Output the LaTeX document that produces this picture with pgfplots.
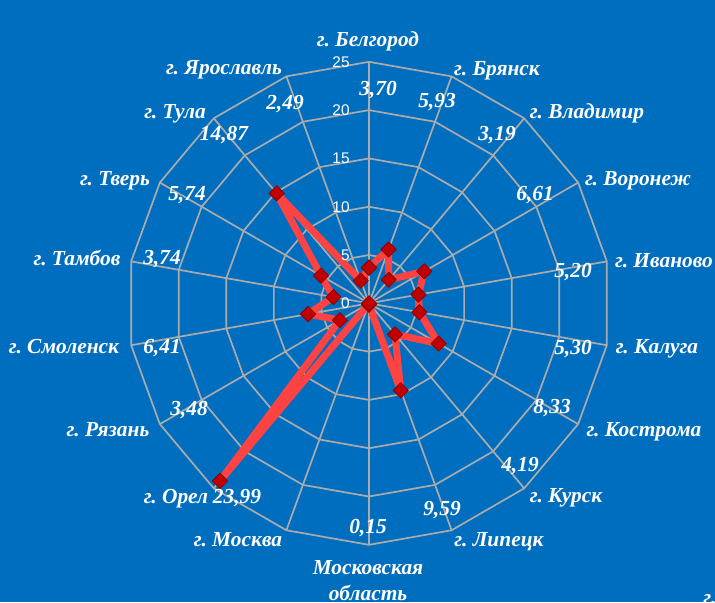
\documentclass[border=0pt]{standalone}
\usepackage{pgfplots}
\pgfplotsset{compat=1.18}
\usepackage{fontspec}
\setmainfont{Liberation Serif}
\newfontfamily\arialf{Liberation Sans}
\definecolor{bgblue}{HTML}{006EBE}
\definecolor{gridgray}{HTML}{ABABAB}
\definecolor{linered}{HTML}{FF4343}
\definecolor{markred}{HTML}{C00000}
\frenchspacing
\tikzset{lbl/.style={text=white, inner sep=0pt, anchor=base, font=\fontsize{10.7}{12}\selectfont\bfseries\itshape},
  tlbl/.style={text=white, inner sep=0pt, anchor=east, font=\fontsize{7.7}{9}\selectfont\arialf}}
\newcommand\lab[3]{\node[lbl] at (#1,#2+7) {#3};}
\begin{document}
\begin{tikzpicture}
\path[use as bounding box] (0,0) rectangle (357.5pt,301pt);
\clip (0,0) rectangle (357.5pt,301pt);
\fill[bgblue] (0,0) rectangle (357.5pt,301pt);
\begin{axis}[
  at={(0,0)}, anchor=south west,
  scale only axis, width=357.5pt, height=301pt,
  xmin=-38.2, xmax=35.82, ymin=-30.92, ymax=31.40,
  hide axis, clip=false,
  data cs=polar,
]
% spokes
\addplot[gridgray, line width=0.85pt, mark=none] coordinates {
(90,0)(90,25)(70,0)(70,25)(50,0)(50,25)(30,0)(30,25)(10,0)(10,25)
(-10,0)(-10,25)(-30,0)(-30,25)(-50,0)(-50,25)(-70,0)(-70,25)(-90,0)(-90,25)
(-110,0)(-110,25)(-130,0)(-130,25)(-150,0)(-150,25)(-170,0)(-170,25)
(170,0)(170,25)(150,0)(150,25)(130,0)(130,25)(110,0)(110,25)};
% rings
\addplot[gridgray, line width=0.85pt, mark=none] coordinates {
(90,5)(70,5)(50,5)(30,5)(10,5)(-10,5)(-30,5)(-50,5)(-70,5)(-90,5)
(-110,5)(-130,5)(-150,5)(-170,5)(170,5)(150,5)(130,5)(110,5)(90,5)};
\addplot[gridgray, line width=0.85pt, mark=none] coordinates {
(90,10)(70,10)(50,10)(30,10)(10,10)(-10,10)(-30,10)(-50,10)(-70,10)(-90,10)
(-110,10)(-130,10)(-150,10)(-170,10)(170,10)(150,10)(130,10)(110,10)(90,10)};
\addplot[gridgray, line width=0.85pt, mark=none] coordinates {
(90,15)(70,15)(50,15)(30,15)(10,15)(-10,15)(-30,15)(-50,15)(-70,15)(-90,15)
(-110,15)(-130,15)(-150,15)(-170,15)(170,15)(150,15)(130,15)(110,15)(90,15)};
\addplot[gridgray, line width=0.85pt, mark=none] coordinates {
(90,20)(70,20)(50,20)(30,20)(10,20)(-10,20)(-30,20)(-50,20)(-70,20)(-90,20)
(-110,20)(-130,20)(-150,20)(-170,20)(170,20)(150,20)(130,20)(110,20)(90,20)};
\addplot[gridgray, line width=0.85pt, mark=none] coordinates {
(90,25)(70,25)(50,25)(30,25)(10,25)(-10,25)(-30,25)(-50,25)(-70,25)(-90,25)
(-110,25)(-130,25)(-150,25)(-170,25)(170,25)(150,25)(130,25)(110,25)(90,25)};
% data
\addplot[linered, line width=3.5pt, line join=round, mark=square*, mark size=2.7pt,
  mark options={fill=markred, draw=markred!75!black, line width=0.4pt, rotate=45, solid}] coordinates {
(90,3.70)(70,5.93)(50,3.19)(30,6.61)(10,5.20)(-10,5.30)(-30,8.33)(-50,4.19)(-70,9.59)(-90,0.15)
(-110,0)(-130,23.99)(-150,3.48)(-170,6.41)(170,3.74)(150,5.74)(130,14.87)(110,2.49)(90,3.70)};
\end{axis}
\begin{scope}[x=0.5pt,y=-0.5pt,shift={(0,301pt)}]
% radial tick labels
\node[tlbl] at (350,303.3) {0};
\node[tlbl] at (350,255) {5};
\node[tlbl] at (350,206.7) {10};
\node[tlbl] at (350,158.4) {15};
\node[tlbl] at (350,110.1) {20};
\node[tlbl] at (350,61.8) {25};
% category labels
\lab{368}{39}{г. Белгород}
\lab{497}{68}{г. Брянск}
\lab{587}{111}{г. Владимир}
\lab{638}{178}{г. Воронеж}
\lab{664}{260}{г. Иваново}
\lab{657}{346}{г. Калуга}
\lab{644}{429}{г. Кострома}
\lab{566}{495}{г. Курск}
\lab{499}{539}{г. Липецк}
\lab{368}{567}{Московская}
\lab{368}{593}{область}
\lab{238}{539}{г. Москва}
\lab{176}{496}{г. Орел}
\lab{108}{429}{г. Рязань}
\lab{64}{346}{г. Смоленск}
\lab{77}{258}{г. Тамбов}
\lab{115}{178}{г. Тверь}
\lab{175}{111}{г. Тула}
\lab{224}{67}{г. Ярославль}
\node[lbl, anchor=base west] at (703,604) {г.};
% data labels
\lab{378}{88}{3,70}
\lab{437}{100}{5,93}
\lab{497}{133}{3,19}
\lab{535}{193}{6,61}
\lab{573}{270}{5,20}
\lab{573}{347}{5,30}
\lab{552}{406}{8,33}
\lab{520}{464}{4,19}
\lab{442}{508}{9,59}
\lab{368}{526}{0,15}
\lab{237}{496}{23,99}
\lab{189}{408}{3,48}
\lab{162}{346}{6,41}
\lab{162}{257}{3,74}
\lab{187}{193}{5,74}
\lab{224}{133}{14,87}
\lab{285}{102}{2,49}
\end{scope}
\end{tikzpicture}
\end{document}
